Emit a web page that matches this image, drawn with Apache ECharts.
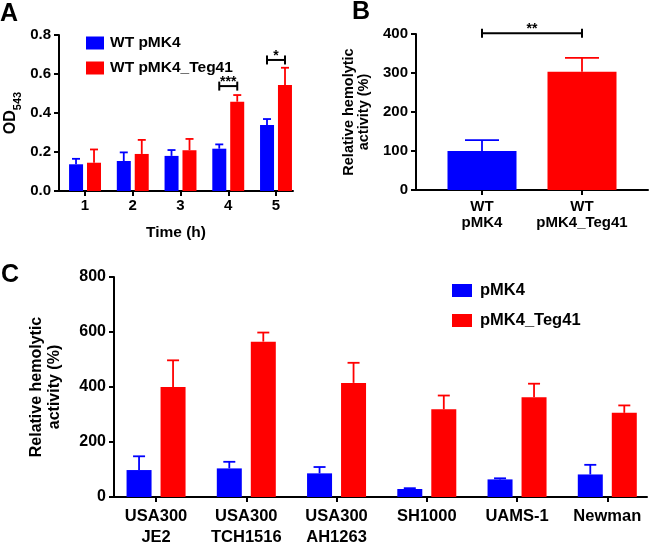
<!DOCTYPE html>
<html><head><meta charset="utf-8">
<script src="https://cdn.jsdelivr.net/npm/echarts@6/dist/echarts.min.js"></script>
<style>html,body{margin:0;padding:0;background:#fff}#c{width:650px;height:548px}</style>
</head><body><div id="c"></div>
<script>
// ---------- Panel A data ----------
const timeCats = ['1', '2', '3', '4', '5'];
const aBlueMean = [0.137, 0.154, 0.180, 0.217, 0.338];
const aBlueErr  = [0.028, 0.044, 0.030, 0.022, 0.031];
const aRedMean  = [0.145, 0.190, 0.209, 0.458, 0.544];
const aRedErr   = [0.068, 0.072, 0.058, 0.034, 0.088];
const aSigCats  = [4, 5];
const aSigY     = [0.538, 0.672];
const aSigLabels = ['***', '*'];
const aYTicks = [0, 0.2, 0.4, 0.6, 0.8];
// ---------- Panel B data ----------
const bCats = ['WT\npMK4', 'WT\npMK4_Teg41'];
const bMean = [100, 303];
const bErr  = [28, 36];
const bSigY = [402];
const bSigLabels = ['**'];
const bYTicks = [0, 100, 200, 300, 400];
// ---------- Panel C data ----------
const strains = ['USA300\nJE2', 'USA300\nTCH1516', 'USA300\nAH1263', 'SH1000', 'UAMS-1', 'Newman'];
const cBlueMean = [98, 104, 86, 29, 64, 82];
const cBlueErr  = [50, 24, 23, 3, 4, 35];
const cRedMean  = [400, 565, 415, 319, 363, 306];
const cRedErr   = [97, 33, 73, 50, 49, 27];
const cYTicks = [0, 200, 400, 600, 800];

// ---------- styles ----------
const BLUE = '#0000FF', RED = '#FF0000';
const FF = '"Liberation Sans", Arial, Helvetica, sans-serif';
const black = '#000';
const idx = arr => arr.map((_, i) => i + 1);

function errItem(offsetPx, capW, colorFn) {
  return function (params, api) {
    const x = api.value(0), m = api.value(1), e = api.value(2);
    const p0 = api.coord([x, m]);
    const p1 = api.coord([x, m + e]);
    const cx = p0[0] + offsetPx;
    const col = colorFn(params.dataIndex);
    return {
      type: 'group', children: [
        { type: 'line', shape: { x1: cx, y1: p0[1], x2: cx, y2: p1[1] }, style: { stroke: col, lineWidth: 1.8 } },
        { type: 'line', shape: { x1: cx - capW / 2, y1: p1[1], x2: cx + capW / 2, y2: p1[1] }, style: { stroke: col, lineWidth: 1.8 } }
      ]
    };
  };
}
function bracketItem(dx1, dx2, labels, fontSize) {
  return function (params, api) {
    const a = api.coord([api.value(0), api.value(2)]);
    const b = api.coord([api.value(1), api.value(2)]);
    const x1 = a[0] + dx1, x2 = b[0] + dx2, y = a[1];
    const ls = { stroke: black, lineWidth: 2 };
    return {
      type: 'group', children: [
        { type: 'line', shape: { x1: x1, y1: y, x2: x2, y2: y }, style: ls },
        { type: 'line', shape: { x1: x1, y1: y - 4.5, x2: x1, y2: y + 4.5 }, style: ls },
        { type: 'line', shape: { x1: x2, y1: y - 4.5, x2: x2, y2: y + 4.5 }, style: ls },
        { type: 'text', style: { text: labels[params.dataIndex], x: (x1 + x2) / 2, y: y + 3, align: 'center', verticalAlign: 'bottom',
            fontSize: fontSize, fontWeight: 'bold', fontFamily: FF, fill: black } }
      ]
    };
  };
}
function xAxisCfg(grid, min, max, vals, fmt, fontSize, margin, lineHeight, name, nameGap) {
  return {
    gridIndex: grid, type: 'value', min: min, max: max,
    splitLine: { show: false },
    axisLine: { show: true, onZero: false, lineStyle: { color: black, width: 2 } },
    axisTick: { show: true, customValues: vals, length: 5, lineStyle: { color: black, width: 2 } },
    axisLabel: { customValues: vals, formatter: fmt, margin: margin, fontSize: fontSize, fontWeight: 'bold',
      color: black, fontFamily: FF, lineHeight: lineHeight },
    name: name, nameLocation: 'middle', nameGap: nameGap,
    nameTextStyle: { fontSize: 15.5, fontWeight: 'bold', color: black, fontFamily: FF }
  };
}
function yAxisCfg(grid, ticks, fmt, fontSize, name, nameGap, nameStyle) {
  return {
    gridIndex: grid, type: 'value', min: ticks[0], max: ticks[ticks.length - 1], interval: ticks[1] - ticks[0],
    splitLine: { show: false },
    axisLine: { show: true, lineStyle: { color: black, width: 2 } },
    axisTick: { show: true, length: 5, lineStyle: { color: black, width: 2 } },
    axisLabel: { formatter: fmt, margin: 8, fontSize: fontSize, fontWeight: 'bold', color: black, fontFamily: FF },
    name: name, nameLocation: 'middle', nameGap: nameGap, nameRotate: 90,
    nameTextStyle: nameStyle
  };
}

const chart = echarts.init(document.getElementById('c'), null, { renderer: 'canvas' });
const option = {
  animation: false,
  backgroundColor: '#fff',
  textStyle: { fontFamily: FF },
  graphic: [
    { type: 'text', left: 0, top: 2, style: { text: 'A', font: 'bold 25px ' + FF, fill: black } },
    { type: 'text', left: 352, top: 0, style: { text: 'B', font: 'bold 25px ' + FF, fill: black } },
    { type: 'text', left: 1, top: 263, style: { text: 'C', font: 'bold 25px ' + FF, fill: black } }
  ],
  grid: [
    { left: 59, top: 35, width: 234, height: 156 },
    { left: 416, top: 34, width: 232, height: 156 },
    { left: 114, top: 277, width: 533, height: 221 }
  ],
  legend: [
    { data: ['WT pMK4', 'WT pMK4_Teg41'], orient: 'vertical', left: 81, top: 30, itemWidth: 18, itemHeight: 13, itemGap: 9,
      icon: 'rect', selectedMode: false, textStyle: { fontSize: 15.5, fontWeight: 'bold', color: black, fontFamily: FF, padding: [0, 0, 0, 1] } },
    { data: ['pMK4', 'pMK4_Teg41'], orient: 'vertical', left: 447, top: 277, itemWidth: 20, itemHeight: 13, itemGap: 13,
      icon: 'rect', selectedMode: false, textStyle: { fontSize: 16.5, fontWeight: 'bold', color: black, fontFamily: FF, padding: [0, 0, 0, 3] } }
  ],
  xAxis: [
    xAxisCfg(0, 0.455, 5.356, idx(timeCats), v => timeCats[Math.round(v) - 1], 15, 7, 16, 'Time (h)', 34),
    xAxisCfg(1, 0.34, 2.66, idx(bCats), v => bCats[Math.round(v) - 1], 15, 9, 16, '', 0),
    xAxisCfg(2, 0.534, 6.44, idx(strains), v => strains[Math.round(v) - 1], 16.5, 9, 21, '', 0)
  ],
  yAxis: [
    yAxisCfg(0, aYTicks, v => v.toFixed(1), 15, '{a|OD}{b|543}', 36,
      { fontFamily: FF, color: black, rich: {
        a: { fontSize: 16, fontWeight: 'bold', fontFamily: FF, lineHeight: 24, verticalAlign: 'middle' },
        b: { fontSize: 11, fontWeight: 'bold', fontFamily: FF, lineHeight: 24, verticalAlign: 'bottom' } } }),
    yAxisCfg(1, bYTicks, v => String(v), 15, 'Relative hemolytic\nactivity (%)', 45,
      { fontSize: 14.5, fontWeight: 'bold', color: black, fontFamily: FF, lineHeight: 15 }),
    yAxisCfg(2, cYTicks, v => String(v), 16, 'Relative hemolytic\nactivity (%)', 51,
      { fontSize: 16, fontWeight: 'bold', color: black, fontFamily: FF, lineHeight: 17.5 })
  ],
  series: [
    // Panel A bars
    { type: 'bar', name: 'WT pMK4', xAxisIndex: 0, yAxisIndex: 0, barWidth: 14, barGap: '28%',
      itemStyle: { color: BLUE }, data: aBlueMean.map((v, i) => [i + 1, v]) },
    { type: 'bar', name: 'WT pMK4_Teg41', xAxisIndex: 0, yAxisIndex: 0, barWidth: 14, barGap: '28%',
      itemStyle: { color: RED }, data: aRedMean.map((v, i) => [i + 1, v]) },
    { type: 'custom', xAxisIndex: 0, yAxisIndex: 0, z: 3, renderItem: errItem(-9, 8, () => BLUE),
      data: aBlueMean.map((v, i) => [i + 1, v, aBlueErr[i]]) },
    { type: 'custom', xAxisIndex: 0, yAxisIndex: 0, z: 3, renderItem: errItem(9, 8, () => RED),
      data: aRedMean.map((v, i) => [i + 1, v, aRedErr[i]]) },
    { type: 'custom', xAxisIndex: 0, yAxisIndex: 0, z: 4, renderItem: bracketItem(-9, 9, aSigLabels, 14),
      data: aSigCats.map((c, i) => [c, c, aSigY[i]]) },
    // Panel B
    { type: 'bar', xAxisIndex: 1, yAxisIndex: 1, barWidth: 69,
      data: bMean.map((v, i) => ({ value: [i + 1, v], itemStyle: { color: [BLUE, RED][i] } })) },
    { type: 'custom', xAxisIndex: 1, yAxisIndex: 1, z: 3, renderItem: errItem(0, 34, i => [BLUE, RED][i]),
      data: bMean.map((v, i) => [i + 1, v, bErr[i]]) },
    { type: 'custom', xAxisIndex: 1, yAxisIndex: 1, z: 4, renderItem: bracketItem(0, 0, bSigLabels, 14),
      data: bSigY.map(y => [1, 2, y]) },
    // Panel C
    { type: 'bar', name: 'pMK4', xAxisIndex: 2, yAxisIndex: 2, barWidth: 25, barGap: '36%',
      itemStyle: { color: BLUE }, data: cBlueMean.map((v, i) => [i + 1, v]) },
    { type: 'bar', name: 'pMK4_Teg41', xAxisIndex: 2, yAxisIndex: 2, barWidth: 25, barGap: '36%',
      itemStyle: { color: RED }, data: cRedMean.map((v, i) => [i + 1, v]) },
    { type: 'custom', xAxisIndex: 2, yAxisIndex: 2, z: 3, renderItem: errItem(-17, 12, () => BLUE),
      data: cBlueMean.map((v, i) => [i + 1, v, cBlueErr[i]]) },
    { type: 'custom', xAxisIndex: 2, yAxisIndex: 2, z: 3, renderItem: errItem(17, 12, () => RED),
      data: cRedMean.map((v, i) => [i + 1, v, cRedErr[i]]) }
  ]
};
chart.setOption(option);
</script></body></html>
